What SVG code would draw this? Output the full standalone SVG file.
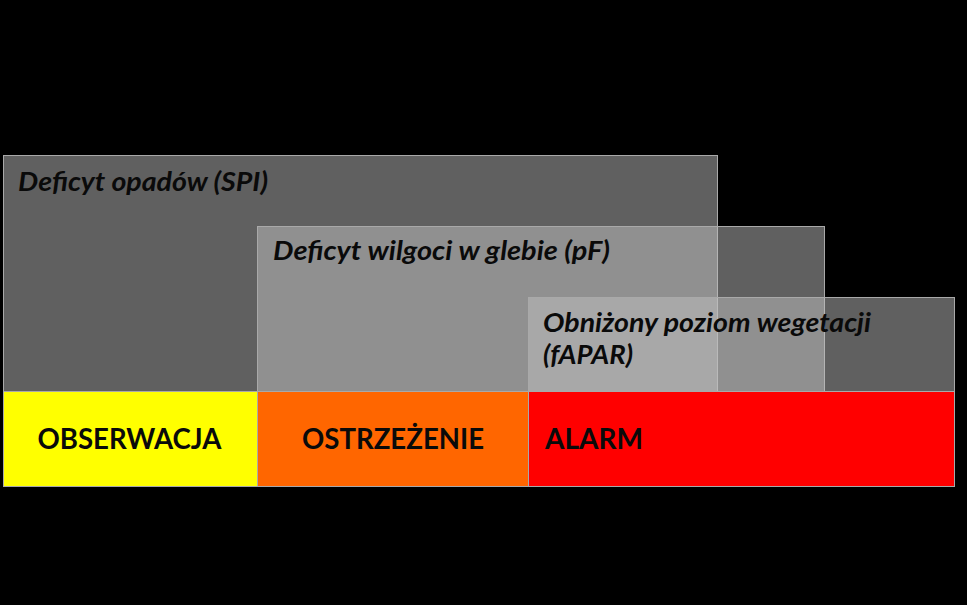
<svg xmlns="http://www.w3.org/2000/svg" width="967" height="605" viewBox="0 0 967 605">
  <style>
    .zone { fill: #bfbfbf; fill-opacity: 0.5; stroke: #a9a9a9; stroke-width: 1; }
    .bar { stroke: #a9a9a9; stroke-width: 1; }
    .lbl { font-family: Lato, "Open Sans", "DejaVu Sans", sans-serif; font-weight: bold; font-style: italic; font-size: 26px; fill: #0a0a0a; }
    .lvl { font-family: Lato, "Open Sans", "DejaVu Sans", sans-serif; font-weight: bold; font-size: 28px; fill: #0a0a0a; }
  </style>
  <rect x="0" y="0" width="967" height="605" fill="#000000"/>
  <g id="spi">
    <rect class="zone" x="3.5" y="155.5" width="714" height="236"/>
    <text class="lbl" x="18" y="191" textLength="250" lengthAdjust="spacingAndGlyphs">Deficyt opadów (SPI)</text>
  </g>
  <g id="pf">
    <rect class="zone" x="257.5" y="226.5" width="567" height="165"/>
    <text class="lbl" x="273" y="260" textLength="337" lengthAdjust="spacingAndGlyphs">Deficyt wilgoci w glebie (pF)</text>
  </g>
  <g id="fapar">
    <rect class="zone" x="528.5" y="297.5" width="426" height="94"/>
    <text class="lbl" x="543" y="332" textLength="328" lengthAdjust="spacingAndGlyphs">Obniżony poziom wegetacji</text>
    <text class="lbl" x="543" y="364" textLength="90" lengthAdjust="spacingAndGlyphs">(fAPAR)</text>
  </g>
  <g id="obserwacja">
    <rect class="bar" x="3.5" y="391.5" width="254" height="95" fill="#ffff00"/>
    <text class="lvl" x="37.5" y="449" textLength="184" lengthAdjust="spacingAndGlyphs">OBSERWACJA</text>
  </g>
  <g id="ostrzezenie">
    <rect class="bar" x="257.5" y="391.5" width="271" height="95" fill="#ff6600"/>
    <text class="lvl" x="302" y="449" textLength="182" lengthAdjust="spacingAndGlyphs">OSTRZEŻENIE</text>
  </g>
  <g id="alarm">
    <rect class="bar" x="528.5" y="391.5" width="426" height="95" fill="#ff0000"/>
    <text class="lvl" x="545" y="449" textLength="98" lengthAdjust="spacingAndGlyphs">ALARM</text>
  </g>
  <g id="connectors"/>
</svg>
